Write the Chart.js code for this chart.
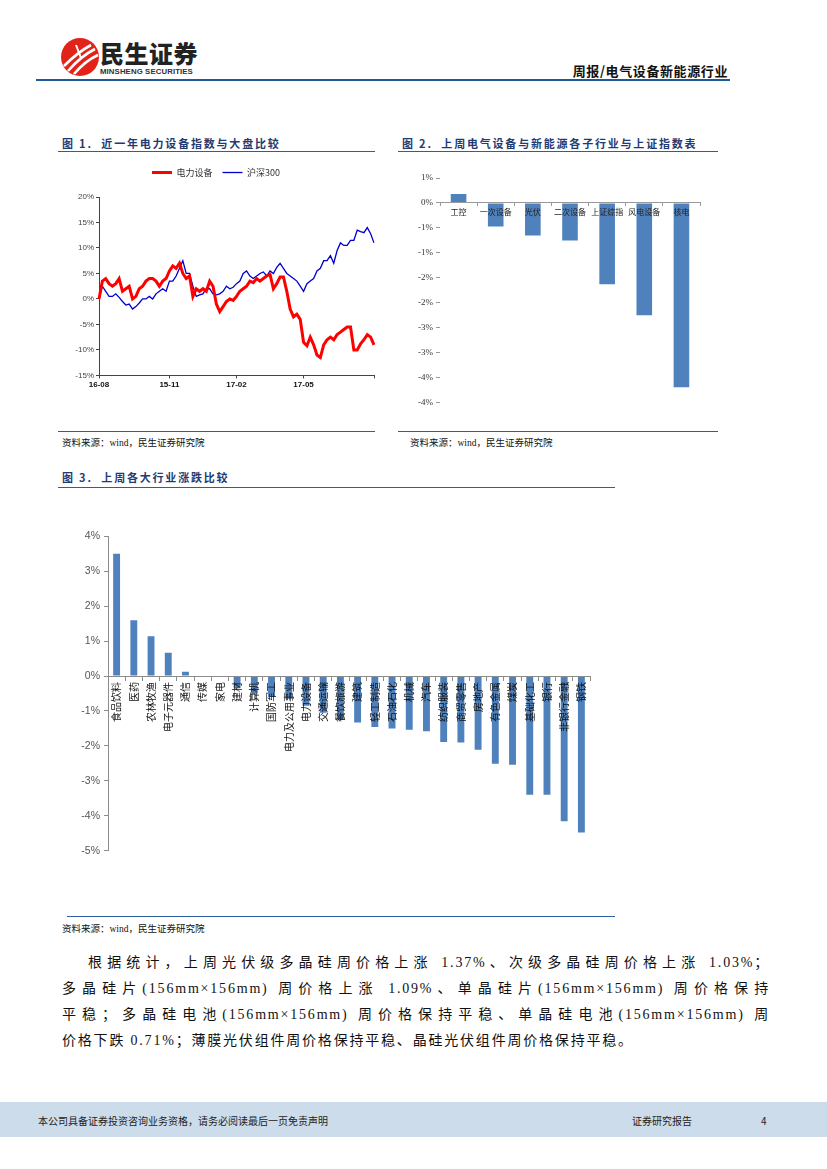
<!DOCTYPE html>
<html><head><meta charset="utf-8">
<script src="https://cdn.jsdelivr.net/npm/chart.js@4.4.1/dist/chart.umd.min.js"></script>
<style>
body{margin:0;width:827px;height:1169px;position:relative;background:#fff;font-family:"Noto Sans CJK SC",sans-serif;overflow:hidden;color:#000}
.abs{position:absolute}
.title{position:absolute;font-weight:bold;font-size:11px;color:#1F3B73;letter-spacing:1.8px;white-space:nowrap;font-family:"Noto Sans CJK SC",sans-serif}
.hl{position:absolute;height:0;border-top:1.5px solid #2F5C9C}
.src{position:absolute;font-size:9.5px;font-family:"Liberation Serif","Noto Sans CJK SC",serif;white-space:nowrap;color:#111}
.para{position:absolute;left:62px;width:708px;font-size:14px;letter-spacing:1.8px;font-family:"Liberation Serif","Noto Sans CJK SC",serif;color:#111}
.para div{height:26px;line-height:26px;white-space:nowrap}
.j{text-align:justify;text-align-last:justify;white-space:normal!important}
</style></head><body>

<!-- header -->
<svg class="abs" style="left:58px;top:36px" width="44" height="44" viewBox="0 0 44 44">
  <circle cx="22" cy="21" r="19" fill="#E2231A"/>
  <path d="M6 30 C14 22 22 15 33 9" stroke="#fff" stroke-width="2.6" fill="none"/>
  <path d="M10 35 C17 27 25 19 37 13" stroke="#fff" stroke-width="2.6" fill="none"/>
  <path d="M16 38 C22 31 29 24 40 19" stroke="#fff" stroke-width="2.6" fill="none"/>
  <path d="M18 9 L23 22" stroke="#fff" stroke-width="2" fill="none"/>
</svg>
<div class="abs" style="left:100px;top:35px;font-size:24px;font-weight:900;color:#222;font-family:'Noto Sans CJK SC';letter-spacing:0.5px">民生证券</div>
<div class="abs" style="left:100px;top:67px;font-size:7.8px;line-height:9px;font-weight:bold;color:#333;font-family:'Liberation Sans Narrow','Liberation Sans',sans-serif;letter-spacing:0.1px">MINSHENG SECURITIES</div>
<div class="abs" style="right:99px;top:61px;font-size:13px;font-weight:bold;color:#111;letter-spacing:0.6px">周报/电气设备新能源行业</div>
<div class="abs" style="left:36px;top:79px;width:694px;height:2px;background:#1F5A98"></div>

<!-- figure 1 -->
<div class="title" style="left:62px;top:135px">图 1.&nbsp;&nbsp;近一年电力设备指数与大盘比较</div>
<div class="hl" style="left:58px;top:151px;width:317px"></div>
<div class="abs" style="left:58px;top:158px"><canvas id="c1" width="318" height="234"></canvas></div>
<div class="hl" style="left:58px;top:431px;width:317px"></div>
<div class="src" style="left:62px;top:435px">资料来源：wind，民生证券研究院</div>

<!-- figure 2 -->
<div class="title" style="left:402px;top:135px">图 2.&nbsp;&nbsp;上周电气设备与新能源各子行业与上证指数表</div>
<div class="hl" style="left:398px;top:151px;width:320px"></div>
<div class="abs" style="left:398px;top:168px"><canvas id="c2" width="320" height="243"></canvas></div>
<div class="hl" style="left:398px;top:431px;width:320px"></div>
<div class="src" style="left:410px;top:435px">资料来源：wind，民生证券研究院</div>

<!-- figure 3 -->
<div class="title" style="left:62px;top:469px">图 3.&nbsp;&nbsp;上周各大行业涨跌比较</div>
<div class="hl" style="left:58px;top:487px;width:557px"></div>
<div class="abs" style="left:60px;top:526px"><canvas id="c3" width="545" height="335"></canvas></div>
<div class="hl" style="left:67px;top:916px;width:548px"></div>
<div class="src" style="left:62px;top:921px">资料来源：wind，民生证券研究院</div>

<div class="para" style="top:950px">
  <div class="j" style="padding-left:26px">根据统计，上周光伏级多晶硅周价格上涨 1.37%、次级多晶硅周价格上涨 1.03%；</div>
  <div class="j">多晶硅片(156mm×156mm) 周价格上涨 1.09%、单晶硅片(156mm×156mm) 周价格保持</div>
  <div class="j">平稳；多晶硅电池(156mm×156mm) 周价格保持平稳、单晶硅电池(156mm×156mm) 周</div>
  <div>价格下跌 0.71%；薄膜光伏组件周价格保持平稳、晶硅光伏组件周价格保持平稳。</div>
</div>

<!-- footer -->
<div class="abs" style="left:0;top:1102px;width:827px;height:35px;background:#CDDCEA"></div>
<div class="abs" style="left:38px;top:1113px;font-size:10px;color:#222">本公司具备证券投资咨询业务资格，请务必阅读最后一页免责声明</div>
<div class="abs" style="left:632px;top:1113px;font-size:10px;color:#222">证券研究报告</div>
<div class="abs" style="left:761px;top:1113px;font-size:10px;color:#222">4</div>

<script>
// ---------- Figure 1 data ----------
const lineTickLabels = ['16-08', '15-11', '17-02', '17-05'];
const lineTickIndex = [0, 21, 41, 61];
const powerEquip = [0,3.5,4,3,2.5,3,4,1.5,2,2.5,0,0.5,2,2.5,3.5,4,4,3.5,2.5,3.5,4,5.5,6.5,6,7,5,4,4.5,0.5,2,1.5,2,1.5,3.5,2.5,-1,-2.5,-1.5,-0.5,0,-0.3,0.5,1.5,2,2.5,3.5,3.2,4,3.5,4,4.5,4.8,2,3,4.3,4.3,1.5,-2,-3.5,-3,-4,-8.5,-9.2,-7.5,-9,-11,-11.5,-9,-8,-7.5,-8,-7,-6.5,-6,-5.5,-5.5,-10,-10,-8.8,-8,-7,-7.5,-9];
const hs300 = [0,2.5,1.5,0.5,0.5,1,0.3,-0.5,-1.2,-1,-2,-1.5,-0.8,0,0,0.5,0,1,1.5,2,1.5,3.5,3.5,4.5,6,7.5,5,5,2.5,0.5,0.8,1,2,2,1,0.8,1,1.5,2.5,2,2.3,3,3.5,5,5.5,4.5,4,4.5,5,5.3,4.5,5.5,5,6.2,7,6,5,4.5,4,3.5,2.5,1.5,3,3.5,4,5.5,6,7.5,7.5,8.5,7,9.5,11,10.5,10.5,11.5,11.5,13.5,13.2,13,14,12.8,11];
const lineSeriesNames = ['电力设备', '沪深300'];

// ---------- Figure 2 data ----------
const subLabels = ['工控', '一次设备', '光伏', '二次设备', '上证综指', '风电设备', '核电'];
const subValues = [0.18, -0.47, -0.65, -0.75, -1.63, -2.25, -3.69];
const subTickLabels = ['1%', '0%', '-1%', '-1%', '-2%', '-2%', '-3%', '-3%', '-4%', '-4%'];

// ---------- Figure 3 data ----------
const industries = ['食品饮料','医药','农林牧渔','电子元器件','通信','传媒','家电','建材','计算机','国防军工','电力及公用事业','电力设备','交通运输','餐饮旅游','建筑','轻工制造','石油石化','机械','汽车','纺织服装','商贸零售','房地产','有色金属','煤炭','基础化工','银行','非银行金融','钢铁'];
const industryChange = [3.5,1.6,1.14,0.67,0.12,-0.01,0,-0.35,-0.5,-0.6,-0.65,-0.85,-1.05,-1.25,-1.33,-1.46,-1.5,-1.54,-1.58,-1.89,-1.9,-2.11,-2.51,-2.54,-3.4,-3.4,-4.16,-4.48];

const legendGap = {
  id: 'legendGap',
  beforeLayout(chart) {
    const lg = chart.legend;
    if (lg && !lg._gapPatched) {
      const f = lg.fit;
      lg.fit = function () { f.call(this); this.height += 10; };
      lg._gapPatched = true;
    }
  }
};

new Chart(document.getElementById('c1'), {
  type: 'line',
  data: {
    labels: powerEquip.map((_, i) => i),
    datasets: [
      { label: lineSeriesNames[0], data: powerEquip, borderColor: '#FF0000', backgroundColor: '#FF0000', borderWidth: 3, pointRadius: 0, tension: 0 },
      { label: lineSeriesNames[1], data: hs300, borderColor: '#0000CC', backgroundColor: '#0000CC', borderWidth: 1.3, pointRadius: 0, tension: 0 }
    ]
  },
  plugins: [legendGap],
  options: {
    responsive: false, animation: false,
    layout: { padding: { top: 0, right: 2, left: 0, bottom: 0 } },
    plugins: {
      tooltip: { enabled: false },
      legend: { position: 'top', labels: { usePointStyle: true, pointStyle: 'line', pointStyleWidth: 20, boxHeight: 8, padding: 10, color: '#333', font: { size: 9, family: 'Noto Sans CJK SC' } } }
    },
    scales: {
      x: {
        type: 'category', offset: false,
        grid: { drawOnChartArea: false, tickLength: 3, color: '#444' },
        border: { color: '#444' },
        ticks: { autoSkip: false, maxRotation: 0, minRotation: 0, padding: 2, color: '#111',
          font: { size: 8, weight: 'bold', family: 'Liberation Sans' },
          callback: (v, i) => { const k = lineTickIndex.indexOf(i); if (k >= 0) return lineTickLabels[k]; return i === powerEquip.length - 1 ? '' : null; } }
      },
      y: {
        min: -15, max: 20,
        grid: { drawOnChartArea: false, tickLength: 3, color: '#444' },
        border: { color: '#444' },
        ticks: { stepSize: 5, padding: 2, color: '#444', font: { size: 8, family: 'Liberation Sans' }, callback: v => v + '%' },
        afterFit: s => { s.width = 41; }
      }
    }
  }
});

new Chart(document.getElementById('c2'), {
  type: 'bar',
  data: { labels: subLabels, datasets: [{ data: subValues, backgroundColor: '#4F81BD', barPercentage: 0.42, categoryPercentage: 1 }] },
  options: {
    responsive: false, animation: false,
    layout: { padding: { top: 10, right: 18, left: 0, bottom: 0 } },
    plugins: { legend: { display: false }, tooltip: { enabled: false } },
    scales: {
      x: {
        position: { y: 0 },
        grid: { offset: true, drawOnChartArea: false, tickLength: 3, color: '#999' },
        border: { color: '#999', z: 1 },
        ticks: { z: 2, autoSkip: false, maxRotation: 0, minRotation: 0, padding: 1, color: '#222', font: { size: 8, family: 'Noto Sans CJK SC' } },
        afterFit: s => { s.height = 0; }
      },
      y: {
        min: -4, max: 0.5,
        grid: { drawOnChartArea: false, tickLength: 4, color: '#999' },
        border: { display: false },
        ticks: { stepSize: 0.5, padding: 3, color: '#333', font: { size: 9, family: 'Liberation Serif' },
          callback: (v, i, t) => subTickLabels[t.length - 1 - i] },
        afterFit: s => { s.width = 42; }
      }
    }
  }
});

new Chart(document.getElementById('c3'), {
  type: 'bar',
  data: { labels: industries, datasets: [{ data: industryChange, backgroundColor: '#4F81BD', barPercentage: 0.4, categoryPercentage: 1 }] },
  options: {
    responsive: false, animation: false,
    layout: { padding: { top: 10, right: 15, left: 0, bottom: 10 } },
    plugins: { legend: { display: false }, tooltip: { enabled: false } },
    scales: {
      x: {
        position: { y: 0 },
        grid: { offset: true, drawOnChartArea: false, tickLength: 4, color: '#8c8c8c' },
        border: { color: '#8c8c8c', z: 1 },
        ticks: { z: 2, autoSkip: false, maxRotation: 90, minRotation: 90, padding: 2, color: '#111', font: { size: 10, family: 'Noto Sans CJK SC' } },
        afterFit: s => { s.height = 0; }
      },
      y: {
        min: -5, max: 4,
        grid: { drawOnChartArea: false, tickLength: 4, color: '#8c8c8c' },
        border: { color: '#8c8c8c' },
        ticks: { stepSize: 1, padding: 4, color: '#555', font: { size: 10.5, family: 'Liberation Sans' }, callback: v => v + '%' },
        afterFit: s => { s.width = 48; }
      }
    }
  }
});
</script>
</body></html>
